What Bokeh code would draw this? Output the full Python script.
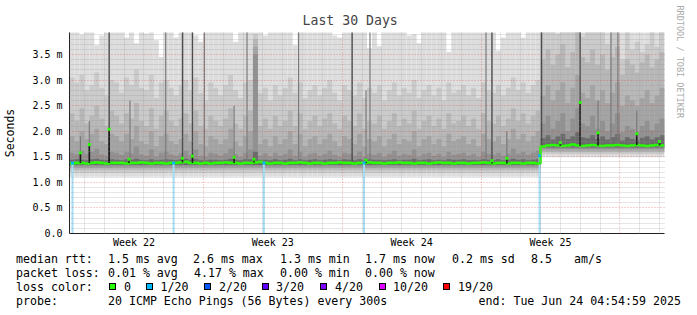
import math
from bokeh.plotting import figure
from bokeh.layouts import column
from bokeh.models import (Range1d, FixedTicker, Title, Div, ColumnDataSource)
from bokeh.embed import file_html
from bokeh.resources import INLINE

# ---------------- data ----------------
STEP_DAYS = 0.25          # one smoke column = 6 hours
X_END_DAYS = 30.0
Y_TOP_MS = 3.93

median = [
    1.37, 1.38, 1.38, 1.37, 1.38, 1.39, 1.38, 1.37, 1.38, 1.38,
    1.38, 1.37, 1.38, 1.38, 1.39, 1.38, 1.37, 1.38, 1.38, 1.37,
    1.38, 1.38, 1.39, 1.40, 1.38, 1.38, 1.37, 1.38, 1.37, 1.38,
    1.38, 1.39, 1.38, 1.38, 1.37, 1.38, 1.38, 1.39, 1.40, 1.38,
    1.37, 1.38, 1.38, 1.37, 1.38, 1.38, 1.39, 1.38, 1.37, 1.38,
    1.38, 1.37, 1.38, 1.38, 1.39, 1.38, 1.38, 1.37, 1.38, 1.38,
    1.39, 1.38, 1.38, 1.37, 1.38, 1.38, 1.39, 1.38, 1.38, 1.37,
    1.38, 1.38, 1.37, 1.38, 1.39, 1.38, 1.38, 1.37, 1.38, 1.38,
    1.37, 1.38, 1.38, 1.39, 1.38, 1.37, 1.38, 1.38, 1.37, 1.38,
    1.38, 1.37, 1.38, 1.38, 1.37, 1.70, 1.72, 1.73, 1.72, 1.71,
    1.72, 1.74, 1.72, 1.71, 1.72, 1.73, 1.72, 1.71, 1.72, 1.72,
    1.73, 1.72, 1.71, 1.72, 1.73, 1.72, 1.71, 1.72, 1.73, 1.72,
]

# upper edges of the smoke bands (outermost = lightest first)
hi1 = [
    4.0, 4.0, 3.89, 4.0, 4.0, 3.68, 3.87, 4.0, 4.0, 4.0,
    4.0, 3.83, 4.0, 3.72, 4.0, 3.91, 4.0, 3.78, 3.45, 4.0,
    4.0, 3.83, 4.0, 4.0, 4.0, 3.87, 3.75, 4.0, 4.0, 4.0,
    4.0, 4.0, 4.0, 3.75, 4.0, 4.0, 4.0, 4.0, 4.0, 3.87,
    4.0, 4.0, 4.0, 4.0, 4.0, 3.68, 4.0, 4.0, 4.0, 4.0,
    4.0, 4.0, 4.0, 3.87, 3.83, 4.0, 4.0, 4.0, 4.0, 4.0,
    3.62, 4.0, 3.66, 4.0, 4.0, 4.0, 4.0, 4.0, 3.87, 3.90,
    3.72, 4.0, 4.0, 4.0, 4.0, 4.0, 3.55, 4.0, 4.0, 4.0,
    4.0, 4.0, 4.0, 4.0, 4.0, 4.0, 3.58, 3.83, 4.0, 4.0,
    4.0, 3.83, 4.0, 4.0, 4.0, 4.0, 4.0, 4.0, 4.0, 4.0,
    4.0, 4.0, 4.0, 4.0, 4.0, 4.0, 4.0, 4.0, 4.0, 4.0,
    4.0, 4.0, 4.0, 4.0, 4.0, 4.0, 4.0, 4.0, 4.0, 4.0,
]
hi2 = [
    3.05, 2.95, 3.10, 2.80, 2.90, 3.15, 2.85, 2.70, 3.00, 2.95,
    2.75, 3.05, 2.90, 3.20, 2.85, 2.80, 3.10, 2.65, 2.95, 3.00,
    2.85, 2.70, 2.90, 3.00, 2.80, 3.05, 2.75, 2.60, 2.95, 2.85,
    2.70, 2.90, 3.10, 2.80, 2.65, 2.95, 3.00, 3.90, 2.75, 2.85,
    2.60, 2.90, 2.70, 2.85, 3.05, 2.75, 2.95, 2.65, 2.80, 2.90,
    2.70, 2.85, 3.00, 2.75, 2.60, 2.90, 2.80, 2.70, 2.95, 2.65,
    2.85, 2.75, 2.90, 2.60, 2.80, 2.95, 2.70, 2.85, 2.75, 3.00,
    2.65, 2.80, 2.90, 2.70, 2.85, 2.60, 2.95, 2.75, 2.80, 2.90,
    2.70, 2.85, 2.65, 2.95, 2.80, 2.75, 2.90, 2.70, 2.85, 3.05,
    2.80, 2.95, 2.75, 2.90, 3.00, 4.0, 4.0, 4.0, 3.90, 4.0,
    4.0, 4.0, 4.0, 3.85, 4.0, 4.0, 4.0, 4.0, 3.70, 4.0,
    4.0, 3.40, 4.0, 3.60, 3.75, 3.55, 3.70, 4.0, 3.65, 4.0,
]
hi3 = [
    2.35, 2.20, 2.45, 2.15, 2.30, 2.50, 2.25, 2.10, 2.40, 2.30,
    2.15, 2.35, 2.25, 2.55, 2.20, 2.10, 2.45, 2.05, 2.30, 2.40,
    2.20, 2.10, 2.25, 2.35, 2.15, 2.40, 2.10, 2.05, 2.30, 2.20,
    2.10, 2.25, 2.45, 2.15, 2.05, 2.30, 2.40, 3.80, 2.10, 2.25,
    2.05, 2.30, 2.10, 2.20, 2.40, 2.10, 2.35, 2.05, 2.20, 2.30,
    2.10, 2.25, 2.35, 2.15, 2.05, 2.30, 2.20, 2.10, 2.35, 2.05,
    2.20, 2.15, 2.30, 2.05, 2.20, 2.35, 2.10, 2.25, 2.15, 2.40,
    2.05, 2.20, 2.30, 2.10, 2.25, 2.05, 2.35, 2.15, 2.20, 2.30,
    2.10, 2.25, 2.05, 2.35, 2.20, 2.15, 2.30, 2.10, 2.25, 2.45,
    2.20, 2.35, 2.15, 2.30, 2.40, 3.40, 3.60, 3.30, 3.50, 3.70,
    3.25, 3.55, 4.00, 3.45, 3.35, 3.60, 3.30, 3.50, 3.20, 3.45,
    3.65, 3.10, 3.40, 3.30, 3.15, 3.35, 3.50, 3.25, 3.40, 3.55,
]
hi4 = [
    1.90, 1.80, 2.00, 1.85, 1.95, 2.05, 1.80, 1.75, 1.95, 1.90,
    1.80, 1.95, 1.85, 2.10, 1.80, 1.75, 2.00, 1.70, 1.90, 1.95,
    1.80, 1.75, 1.85, 1.95, 1.80, 2.00, 1.75, 1.70, 1.90, 1.85,
    1.75, 1.85, 2.05, 1.80, 1.70, 1.90, 2.00, 3.65, 1.75, 1.85,
    1.70, 1.90, 1.75, 1.85, 2.00, 1.75, 1.95, 1.70, 1.85, 1.90,
    1.75, 1.85, 1.95, 1.80, 1.70, 1.90, 1.85, 1.75, 1.95, 1.70,
    1.85, 1.80, 1.90, 1.70, 1.85, 1.95, 1.75, 1.85, 1.80, 2.00,
    1.70, 1.85, 1.90, 1.75, 1.85, 1.70, 1.95, 1.80, 1.85, 1.90,
    1.75, 1.85, 1.70, 1.95, 1.85, 1.80, 1.90, 1.75, 1.85, 2.05,
    1.85, 1.95, 1.80, 1.90, 2.00, 2.70, 2.90, 2.60, 2.80, 2.95,
    2.55, 2.85, 3.10, 2.75, 2.65, 2.90, 2.60, 2.80, 2.55, 2.75,
    2.95, 2.50, 2.70, 2.60, 2.50, 2.65, 2.80, 2.55, 2.70, 2.85,
]
hi5 = [
    1.58, 1.55, 1.62, 1.56, 1.60, 1.66, 1.55, 1.52, 1.60, 1.58,
    1.54, 1.60, 1.57, 1.70, 1.55, 1.52, 1.64, 1.50, 1.58, 1.60,
    1.55, 1.52, 1.57, 1.62, 1.54, 1.64, 1.52, 1.50, 1.58, 1.56,
    1.52, 1.57, 1.66, 1.55, 1.50, 1.58, 1.64, 3.50, 1.52, 1.57,
    1.50, 1.58, 1.52, 1.56, 1.64, 1.52, 1.60, 1.50, 1.56, 1.58,
    1.52, 1.56, 1.62, 1.54, 1.50, 1.58, 1.56, 1.52, 1.60, 1.50,
    1.56, 1.54, 1.58, 1.50, 1.56, 1.62, 1.52, 1.56, 1.54, 1.64,
    1.50, 1.56, 1.58, 1.52, 1.56, 1.50, 1.60, 1.54, 1.56, 1.58,
    1.52, 1.56, 1.50, 1.60, 1.56, 1.54, 1.58, 1.52, 1.56, 1.66,
    1.56, 1.60, 1.54, 1.58, 1.62, 2.15, 2.30, 2.05, 2.20, 2.35,
    2.00, 2.25, 2.45, 2.15, 2.10, 2.30, 2.05, 2.20, 2.00, 2.15,
    2.35, 1.98, 2.10, 2.05, 1.98, 2.10, 2.20, 2.02, 2.15, 2.25,
]
hi6 = [
    1.44, 1.45, 1.44, 1.43, 1.45, 1.46, 1.44, 1.43, 1.45, 1.44,
    1.43, 1.45, 1.44, 1.46, 1.44, 1.43, 1.45, 1.43, 1.44, 1.45,
    1.44, 1.43, 1.45, 1.46, 1.44, 1.45, 1.43, 1.43, 1.44, 1.44,
    1.43, 1.44, 1.46, 1.44, 1.43, 1.45, 1.45, 1.60, 1.44, 1.44,
    1.43, 1.45, 1.43, 1.44, 1.46, 1.43, 1.45, 1.43, 1.44, 1.45,
    1.43, 1.44, 1.45, 1.44, 1.43, 1.45, 1.44, 1.43, 1.45, 1.43,
    1.45, 1.44, 1.44, 1.43, 1.44, 1.45, 1.43, 1.44, 1.44, 1.46,
    1.43, 1.44, 1.45, 1.43, 1.44, 1.43, 1.45, 1.44, 1.44, 1.45,
    1.43, 1.44, 1.43, 1.45, 1.44, 1.43, 1.45, 1.43, 1.44, 1.46,
    1.44, 1.45, 1.43, 1.44, 1.45, 1.86, 1.92, 1.84, 1.90, 1.95,
    1.85, 1.90, 1.98, 1.88, 1.86, 1.92, 1.85, 1.90, 1.84, 1.88,
    1.94, 1.82, 1.88, 1.85, 1.82, 1.87, 1.90, 1.84, 1.88, 1.92,
]
# lower edges of the smoke bands (band 1..6), before / after the level change
lo_before = [1.11, 1.19, 1.24, 1.28, 1.31, 1.34]
lo_after = [1.49, 1.55, 1.59, 1.62, 1.65, 1.68]
change_column = 95

band_colors = ["#dddddd", "#cacaca", "#b7b7b7", "#a4a4a4", "#919191", "#6b6b6b"]

dark_spike_day = [2.0, 5.7, 6.2, 14.25, 21.3, 23.8, 25.75]
dark_spike_top = [3.95, 3.95, 3.95, 3.95, 3.95, 3.95, 3.95]
mid_spike_day = [0.55, 1.0, 3.05, 4.85, 6.8, 8.3, 8.95, 11.55, 14.95, 15.15,
                 21.0, 22.05, 26.65, 27.3, 27.65, 28.6]
mid_spike_top = [1.9, 2.2, 2.6, 3.95, 3.95, 2.5, 3.95, 3.95, 2.8, 3.95,
                 3.95, 2.0, 2.6, 3.95, 3.95, 2.4]

med_spike_day = [0.55, 1.0, 2.0, 3.0, 5.7, 6.2, 8.3, 9.3, 14.95, 21.3,
                 22.05, 24.75, 25.75, 26.65, 28.6, 29.75]
med_spike_val = [1.58, 1.74, 2.04, 1.45, 1.47, 1.51, 1.49, 1.45, 1.43, 1.42,
                 1.47, 1.78, 2.56, 1.97, 1.95, 1.80]

loss_day = [0.15, 5.25, 9.8, 14.85, 23.7]
loss_val = [1.38, 1.38, 1.38, 1.38, 1.52]

week_pos = [3.25, 10.25, 17.25, 24.25]
week_labels = ["Week 22", "Week 23", "Week 24", "Week 25"]
week_lines = [6.75, 13.75, 20.75, 27.75]
day_lines = [0.75 + k for k in range(30) if k % 7 != 6]
y_major = [0.0, 0.5, 1.0, 1.5, 2.0, 2.5, 3.0, 3.5]
y_labels = ["0.0", "0.5 m", "1.0 m", "1.5 m", "2.0 m", "2.5 m", "3.0 m", "3.5 m"]
y_minor = [k / 10 for k in range(1, 40) if k % 5 != 0]

stats_rtt = [("median rtt:", 16), ("1.5 ms avg", 108), ("2.6 ms max", 193),
             ("1.3 ms min", 280), ("1.7 ms now", 365), ("0.2 ms sd", 452),
             ("8.5", 531), ("am/s", 574)]
stats_loss = [("packet loss:", 16), ("0.01 % avg", 108), ("4.17 % max", 194),
              ("0.00 % min", 280), ("0.00 % now", 365)]
loss_names = ["0", "1/20", "2/20", "3/20", "4/20", "10/20", "19/20"]
loss_colors = ["#26ff00", "#00b8ff", "#0059ff", "#5e00ff", "#7e00ff", "#dd00ff", "#ff0000"]
probe_text = "20 ICMP Echo Pings (56 Bytes) every 300s"
end_text = "end: Tue Jun 24 04:54:59 2025"

# ---------------- figure ----------------
FL, FR, FT, FB = 67, 667, 32, 233   # frame edges in canvas pixels
W, H = 697, 315
FIG_H = 250
MONO = "DejaVu Sans Mono"

p = figure(width=W, height=FIG_H, output_backend="svg", toolbar_location=None,
           x_range=Range1d(0, X_END_DAYS), y_range=Range1d(0, Y_TOP_MS),
           min_border_left=FL, min_border_right=W - FR,
           min_border_top=FT, min_border_bottom=FIG_H - FB)
p.outline_line_color = None
p.background_fill_color = "white"
p.border_fill_color = "white"
p.margin = (0, 0, 0, 0)

p.title.text = "Last 30 Days"
p.title.align = "left"
p.title.offset = 233
p.title.text_font = MONO
p.title.text_font_size = "13.2px"
p.title.text_font_style = "normal"
p.title.standoff = 10

p.add_layout(Title(text="RRDTOOL / TOBI OETIKER", align="left", offset=-27,
                   text_font=MONO, text_font_size="8.5px", text_font_style="normal",
                   text_color="#aaaaaa", standoff=21), "right")

n = len(median)
left = [STEP_DAYS * i for i in range(n)]
right = [STEP_DAYS * (i + 1) for i in range(n)]
his = [hi1, hi2, hi3, hi4, hi5, hi6]
for b in range(6):
    bottoms = [lo_before[b] if i < change_column else lo_after[b] for i in range(n)]
    src = ColumnDataSource(dict(left=left, right=right, bottom=bottoms, top=his[b]))
    p.quad(left="left", right="right", bottom="bottom", top="top", source=src,
           fill_color=band_colors[b], line_color=None)

def base_at(day):
    return median[min(int(day / STEP_DAYS), n - 1)]

p.segment(x0=mid_spike_day, x1=mid_spike_day,
          y0=[base_at(d) for d in mid_spike_day], y1=mid_spike_top,
          line_color="#7a7a7a", line_width=1.2)
p.segment(x0=dark_spike_day, x1=dark_spike_day,
          y0=[base_at(d) for d in dark_spike_day], y1=dark_spike_top,
          line_color="#4a4a4a", line_width=1.4)

# loss markers (1/20)
p.segment(x0=loss_day, x1=loss_day, y0=[0] * len(loss_day), y1=loss_val,
          line_color="#a3ddf6", line_width=2)

# median line
mx, my = [], []
for i in range(n):
    mx += [left[i], right[i]]
    my += [median[i], median[i]]
p.line(mx, my, line_color="#26ff00", line_width=2.6)

p.segment(x0=med_spike_day, x1=med_spike_day,
          y0=[base_at(d) for d in med_spike_day], y1=med_spike_val,
          line_color="#1a1a1a", line_width=1.6)
p.rect(x=med_spike_day, y=med_spike_val, width=3, height=3,
       width_units="screen", height_units="screen",
       fill_color="#26ff00", line_color=None)
p.rect(x=loss_day, y=loss_val, width=3, height=3,
       width_units="screen", height_units="screen",
       fill_color="#00b8ff", line_color=None)

# grids (drawn over the smoke)
for g, maj, mnr in ((p.xgrid[0], week_lines, day_lines), (p.ygrid[0], y_major, y_minor)):
    g.ticker = FixedTicker(ticks=maj, minor_ticks=mnr)
    g.grid_line_color = "#d03030"
    g.grid_line_alpha = 0.45
    g.grid_line_dash = "1 2"
    g.minor_grid_line_color = "#909090"
    g.minor_grid_line_alpha = 0.45
    g.minor_grid_line_dash = "1 1"
    g.level = "overlay"

# axes
xa = p.xaxis[0]
xa.ticker = FixedTicker(ticks=week_pos)
xa.major_label_overrides = {k: v for k, v in zip(week_pos, week_labels)}
ya = p.yaxis[0]
ya.ticker = FixedTicker(ticks=y_major)
ya.major_label_overrides = {k: v for k, v in zip(y_major, y_labels)}
for a in (xa, ya):
    a.axis_line_color = "#202020"
    a.axis_line_width = 1
    a.major_tick_line_color = None
    a.minor_tick_line_color = None
    a.major_tick_out = 0
    a.major_tick_in = 0
    a.minor_tick_out = 0
    a.minor_tick_in = 0
    a.major_label_text_font = MONO
    a.major_label_text_font_size = "10px"
    a.major_label_text_color = "black"
xa.major_label_standoff = 3
ya.major_label_standoff = 7
ya.axis_label = "Seconds"
ya.axis_label_text_font = MONO
ya.axis_label_text_font_size = "11.5px"
ya.axis_label_text_font_style = "normal"
ya.axis_label_text_color = "black"
ya.axis_label_standoff = 12

# ---------- legend / statistics block below the graph ----------
ROWS = [259, 273, 287, 301]
LINE_H = 14

def span(X, Y, s):
    return ('<span style="position:absolute;left:%.1fpx;top:%.1fpx;line-height:%dpx;'
            'white-space:pre;">%s</span>' % (X, Y - FIG_H - LINE_H / 2, LINE_H, s))

parts = []
for s, X in stats_rtt:
    parts.append(span(X, ROWS[0], s))
for s, X in stats_loss:
    parts.append(span(X, ROWS[1], s))
parts.append(span(16, ROWS[2], "loss color:"))
box_x = [108.5, 146, 204, 262, 320, 379, 443]
name_x = [124, 160.5, 219, 276, 335, 393, 458]
for bx, nx, nm, col in zip(box_x, name_x, loss_names, loss_colors):
    parts.append('<span style="position:absolute;left:%.1fpx;top:%.1fpx;width:7px;height:7px;'
                 'border:1px solid #000;background:%s;"></span>'
                 % (bx, ROWS[2] - FIG_H - 4.5, col))
    parts.append(span(nx, ROWS[2], nm))
parts.append(span(16, ROWS[3], "probe:"))
parts.append(span(108, ROWS[3], probe_text))
parts.append(span(478.5, ROWS[3], end_text))

html = ('<div style="position:relative;width:%dpx;height:%dpx;background:#fff;'
        "font-family:'DejaVu Sans Mono',monospace;font-size:11.6px;color:#000;\">%s</div>"
        % (W, H - FIG_H, "".join(parts)))
legend_div = Div(text=html, width=W, height=H - FIG_H, margin=(0, 0, 0, 0))

layout = column(p, legend_div, spacing=0, margin=(0, 0, 0, 0))
open("out.html", "w").write(file_html(layout, INLINE))
